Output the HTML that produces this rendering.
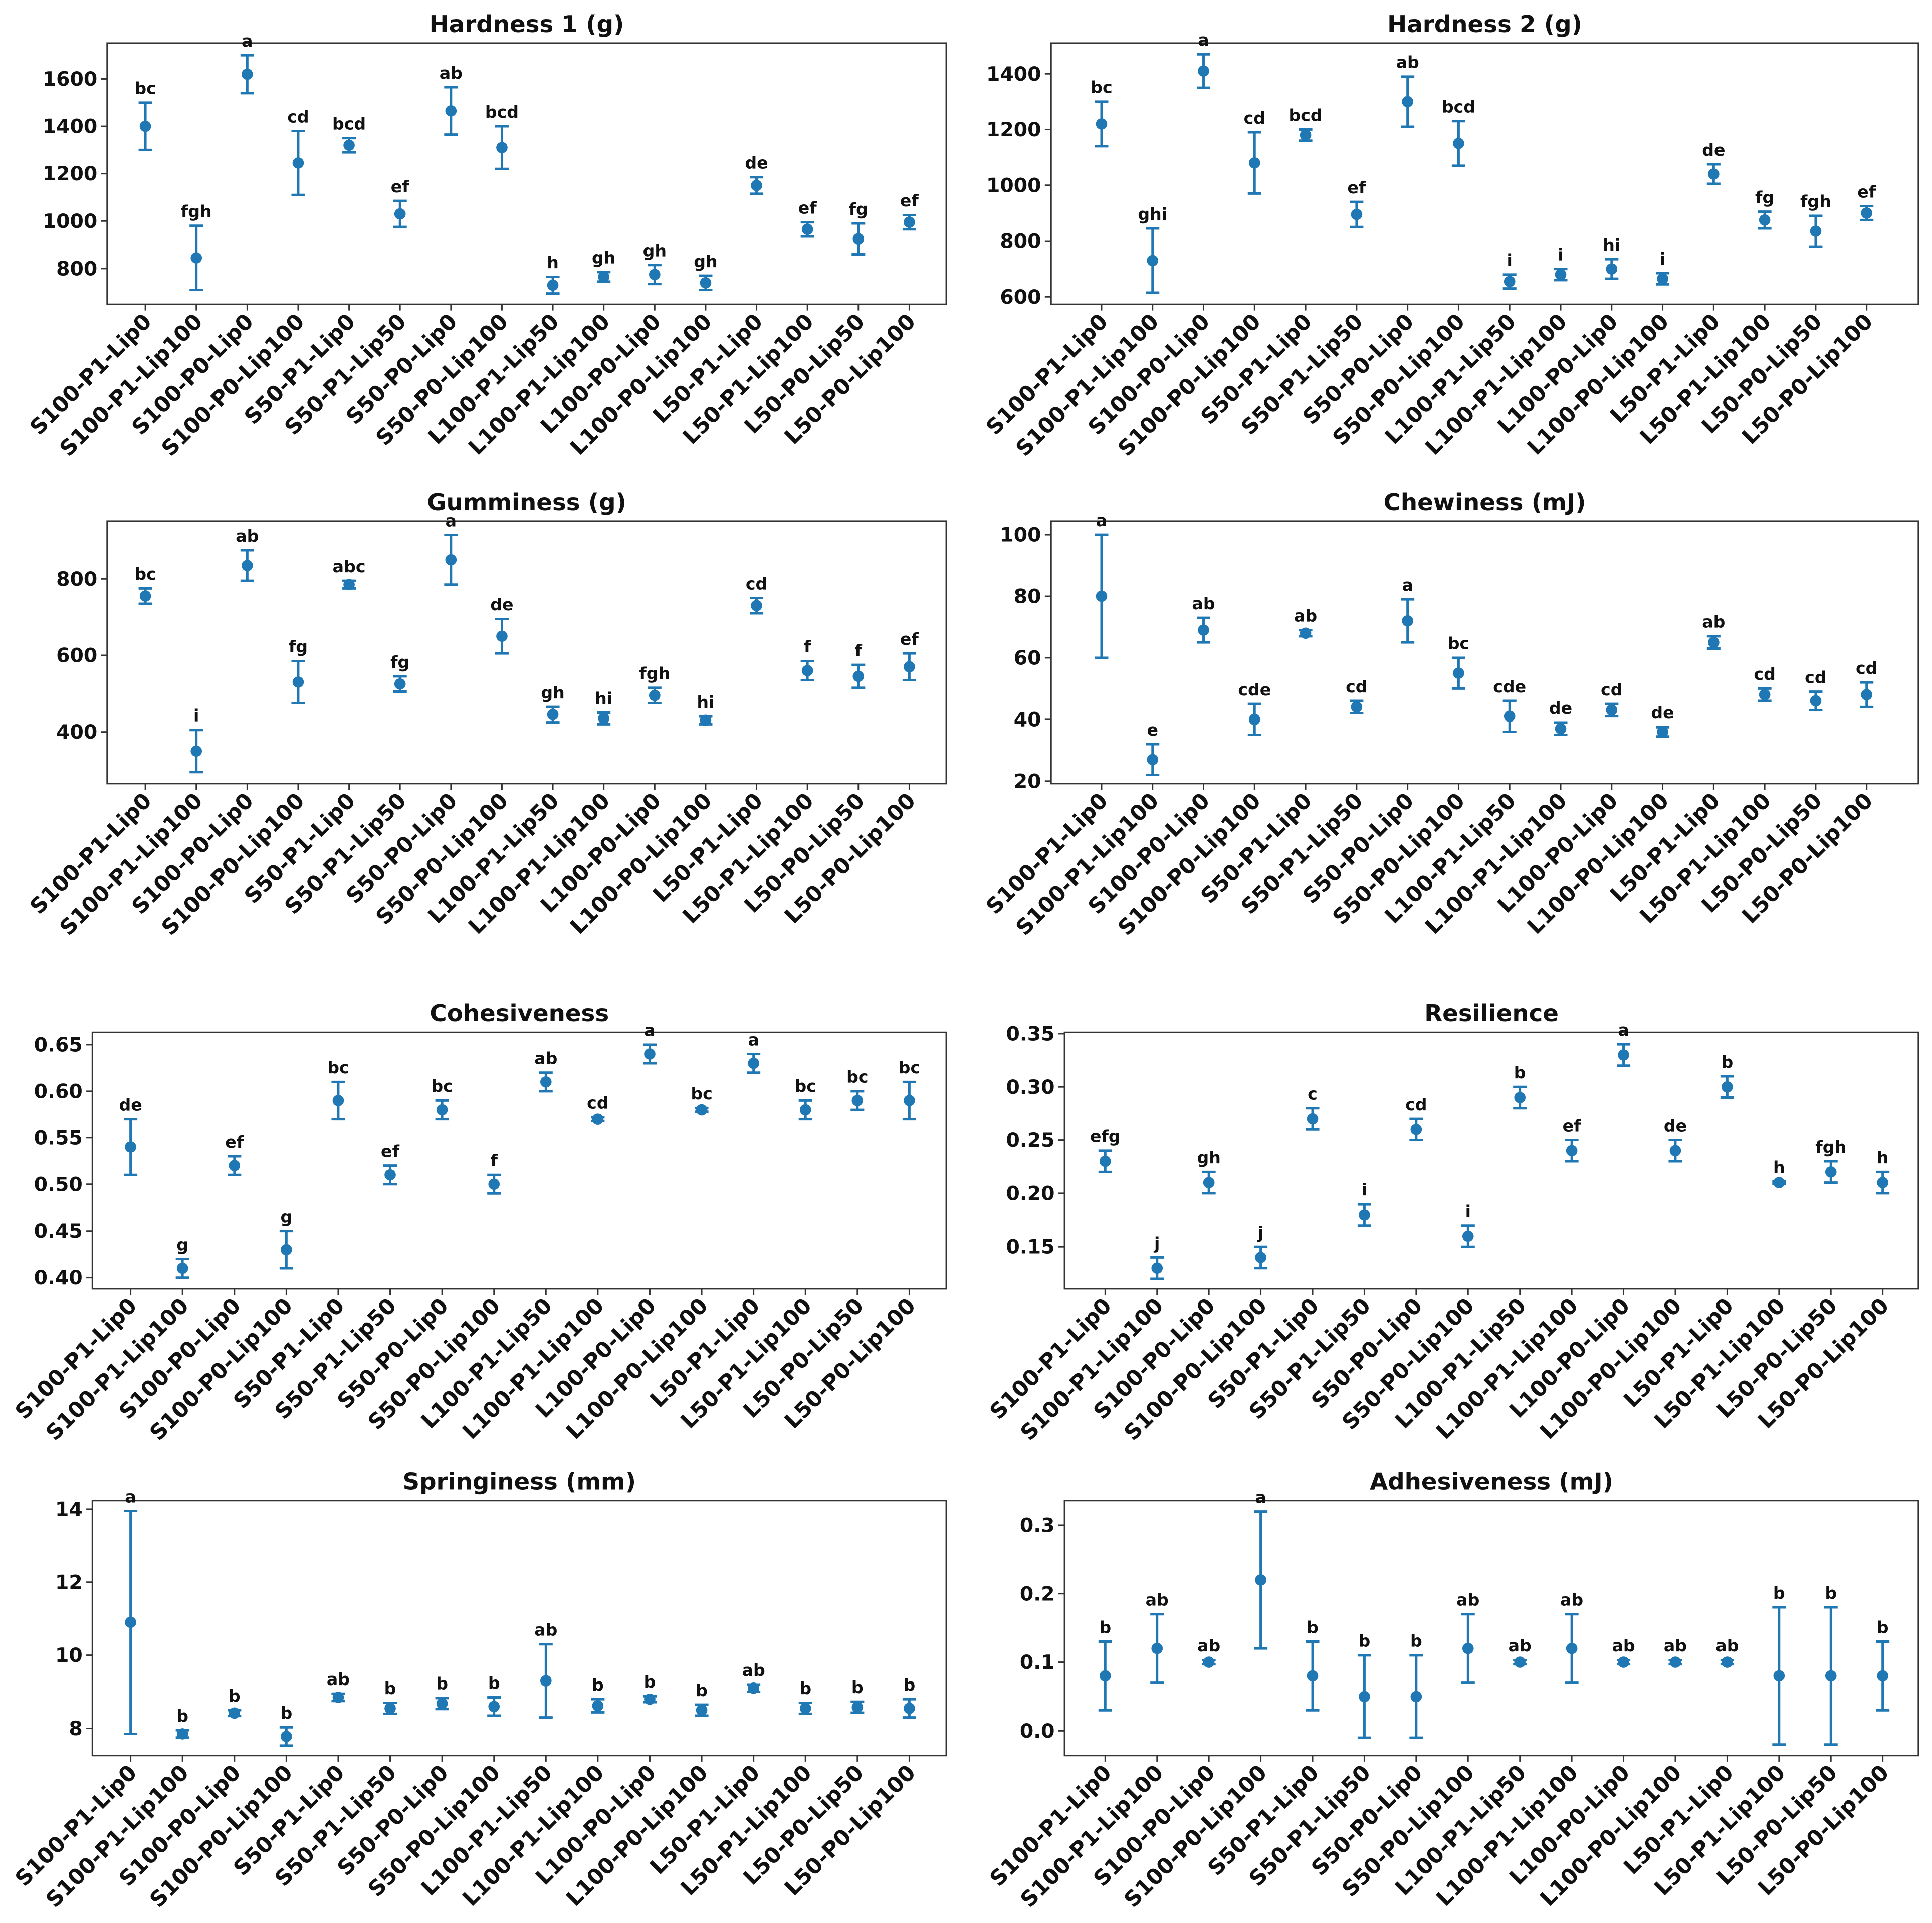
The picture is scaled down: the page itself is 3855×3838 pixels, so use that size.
<!DOCTYPE html>
<html><head><meta charset="utf-8"><style>
html,body{margin:0;padding:0;background:#fff;}
svg{display:block;}
text{font-family:"DejaVu Sans","Liberation Sans",sans-serif;font-weight:bold;fill:#111;}
</style></head><body>
<svg id="fig" xmlns="http://www.w3.org/2000/svg" width="3855" height="3838" viewBox="0 0 1568 1561" preserveAspectRatio="none"></svg>
<script>
const categories = ["S100-P1-Lip0","S100-P1-Lip100","S100-P0-Lip0","S100-P0-Lip100","S50-P1-Lip0","S50-P1-Lip50","S50-P0-Lip0","S50-P0-Lip100","L100-P1-Lip50","L100-P1-Lip100","L100-P0-Lip0","L100-P0-Lip100","L50-P1-Lip0","L50-P1-Lip100","L50-P0-Lip50","L50-P0-Lip100"];

const h1Means = [1400,845,1620,1245,1320,1030,1465,1310,730,765,775,740,1150,965,925,995];
const h1Errs = [100,135,80,135,30,55,100,90,35,20,40,30,35,30,65,30];
const h1Letters = ["bc","fgh","a","cd","bcd","ef","ab","bcd","h","gh","gh","gh","de","ef","fg","ef"];
const h1Ticks = [800,1000,1200,1400,1600];

const h2Means = [1220,730,1410,1080,1180,895,1300,1150,655,680,700,665,1040,875,835,900];
const h2Errs = [80,115,60,110,20,45,90,80,25,20,35,20,35,30,55,25];
const h2Letters = ["bc","ghi","a","cd","bcd","ef","ab","bcd","i","i","hi","i","de","fg","fgh","ef"];
const h2Ticks = [600,800,1000,1200,1400];

const gMeans = [755,350,835,530,785,525,850,650,445,435,495,430,730,560,545,570];
const gErrs = [20,55,40,55,10,20,65,45,20,15,20,10,20,25,30,35];
const gLetters = ["bc","i","ab","fg","abc","fg","a","de","gh","hi","fgh","hi","cd","f","f","ef"];
const gTicks = [400,600,800];

const cwMeans = [80,27,69,40,68,44,72,55,41,37,43,36,65,48,46,48];
const cwErrs = [20,5,4,5,1,2,7,5,5,2,2,1.5,2,2,3,4];
const cwLetters = ["a","e","ab","cde","ab","cd","a","bc","cde","de","cd","de","ab","cd","cd","cd"];
const cwTicks = [20,40,60,80,100];

const coMeans = [0.54,0.41,0.52,0.43,0.59,0.51,0.58,0.50,0.61,0.57,0.64,0.58,0.63,0.58,0.59,0.59];
const coErrs = [0.03,0.01,0.01,0.02,0.02,0.01,0.01,0.01,0.01,0.002,0.01,0.002,0.01,0.01,0.01,0.02];
const coLetters = ["de","g","ef","g","bc","ef","bc","f","ab","cd","a","bc","a","bc","bc","bc"];
const coTicks = [0.40,0.45,0.50,0.55,0.60,0.65];

const reMeans = [0.23,0.13,0.21,0.14,0.27,0.18,0.26,0.16,0.29,0.24,0.33,0.24,0.30,0.21,0.22,0.21];
const reErrs = [0.01,0.01,0.01,0.01,0.01,0.01,0.01,0.01,0.01,0.01,0.01,0.01,0.01,0.001,0.01,0.01];
const reLetters = ["efg","j","gh","j","c","i","cd","i","b","ef","a","de","b","h","fgh","h"];
const reTicks = [0.15,0.20,0.25,0.30,0.35];

const spMeans = [10.9,7.85,8.42,7.78,8.85,8.55,8.68,8.6,9.3,8.62,8.8,8.5,9.1,8.55,8.58,8.55];
const spErrs = [3.05,0.1,0.08,0.25,0.1,0.15,0.15,0.25,1.0,0.18,0.08,0.15,0.1,0.15,0.15,0.25];
const spLetters = ["a","b","b","b","ab","b","b","b","ab","b","b","b","ab","b","b","b"];
const spTicks = [8,10,12,14];

const adMeans = [0.08,0.12,0.10,0.22,0.08,0.05,0.05,0.12,0.10,0.12,0.10,0.10,0.10,0.08,0.08,0.08];
const adErrs = [0.05,0.05,0.003,0.10,0.05,0.06,0.06,0.05,0.003,0.05,0.003,0.003,0.003,0.10,0.10,0.05];
const adLetters = ["b","ab","ab","a","b","b","b","ab","ab","ab","ab","ab","ab","b","b","b"];
const adTicks = [0.0,0.1,0.2,0.3];

const NS = "http://www.w3.org/2000/svg";
const svg = document.getElementById("fig");
const C = "#1f77b4";
function mk(tag, attrs, parent){const e=document.createElementNS(NS,tag);for(const k in attrs)e.setAttribute(k,attrs[k]);parent.appendChild(e);return e;}

function drawPanel(p){
  const g = mk("g",{},svg);
  
  
  const yS = v => p.B - (v - p.ymin)/(p.ymax - p.ymin)*(p.B - p.T);
  const xS = i => p.x0 + i*(p.x1 - p.x0)/(categories.length-1);
  const t = mk("text",{x:(p.L+p.R)/2,y:p.T-9,"text-anchor":"middle","font-size":19},g);
  t.textContent = p.title;
  
  
  const fr = mk("rect",{x:p.L,y:p.T,width:p.R-p.L,height:p.B-p.T,fill:"none",stroke:"#333","stroke-width":1.3},g);
  
  
  p.ticks.forEach(v=>{
    const y=yS(v);
    mk("line",{x1:p.L-5,x2:p.L,y1:y,y2:y,stroke:"#333","stroke-width":1.2},g);
    const tl = mk("text",{x:p.L-8,y:y+5.5,"text-anchor":"end","font-size":16},g);
    tl.textContent = v.toFixed(p.dec);
    
    
  });
  categories.forEach((c,i)=>{
    const x=xS(i);
    mk("line",{x1:x,x2:x,y1:p.B,y2:p.B+5,stroke:"#333","stroke-width":1.2},g);
    const xl = mk("text",{x:0,y:0,"text-anchor":"end","font-size":17.5,transform:`translate(${x+6},${p.B+15}) rotate(-45)`},g);
    xl.textContent = c;
    
    
    const m=p.means[i], e=p.errs[i];
    const yt=yS(m+e), yb=yS(m-e), ym=yS(m);
    const eb = mk("g",{stroke:C,"stroke-width":2},g);
    
    
    mk("line",{x1:x,x2:x,y1:yt,y2:yb},eb);
    mk("line",{x1:x-5.5,x2:x+5.5,y1:yt,y2:yt},eb);
    mk("line",{x1:x-5.5,x2:x+5.5,y1:yb,y2:yb},eb);
    const pt = mk("circle",{cx:x,cy:ym,r:4.6,fill:C},g);
    
    
    const lt = mk("text",{x:x,y:yt-7,"text-anchor":"middle","font-size":13.5},g);
    lt.textContent = p.letters[i];
    
    
  });
}

drawPanel({name:"hardness1",title:"Hardness 1 (g)",L:87,R:768,T:35,B:247,x0:118,x1:738,ymin:649,ymax:1751,ticks:h1Ticks,dec:0,means:h1Means,errs:h1Errs,letters:h1Letters});
drawPanel({name:"hardness2",title:"Hardness 2 (g)",L:853,R:1557,T:35,B:247,x0:894,x1:1515,ymin:573,ymax:1510,ticks:h2Ticks,dec:0,means:h2Means,errs:h2Errs,letters:h2Letters});
drawPanel({name:"gumminess",title:"Gumminess (g)",L:87,R:768,T:423,B:636,x0:118,x1:738,ymin:265,ymax:951,ticks:gTicks,dec:0,means:gMeans,errs:gErrs,letters:gLetters});
drawPanel({name:"chewiness",title:"Chewiness (mJ)",L:853,R:1557,T:423,B:636,x0:894,x1:1515,ymin:19.2,ymax:104.4,ticks:cwTicks,dec:0,means:cwMeans,errs:cwErrs,letters:cwLetters});
drawPanel({name:"cohesiveness",title:"Cohesiveness",L:75,R:768,T:838,B:1046,x0:106,x1:738,ymin:0.3881,ymax:0.6632,ticks:coTicks,dec:2,means:coMeans,errs:coErrs,letters:coLetters});
drawPanel({name:"resilience",title:"Resilience",L:864,R:1557,T:838,B:1046,x0:897,x1:1528,ymin:0.1107,ymax:0.3512,ticks:reTicks,dec:2,means:reMeans,errs:reErrs,letters:reLetters});
drawPanel({name:"springiness",title:"Springiness (mm)",L:75,R:768,T:1218,B:1425,x0:106,x1:738,ymin:7.258,ymax:14.236,ticks:spTicks,dec:0,means:spMeans,errs:spErrs,letters:spLetters});
drawPanel({name:"adhesiveness",title:"Adhesiveness (mJ)",L:864,R:1557,T:1218,B:1425,x0:897,x1:1528,ymin:-0.036,ymax:0.336,ticks:adTicks,dec:1,means:adMeans,errs:adErrs,letters:adLetters});
</script>
</body></html>
